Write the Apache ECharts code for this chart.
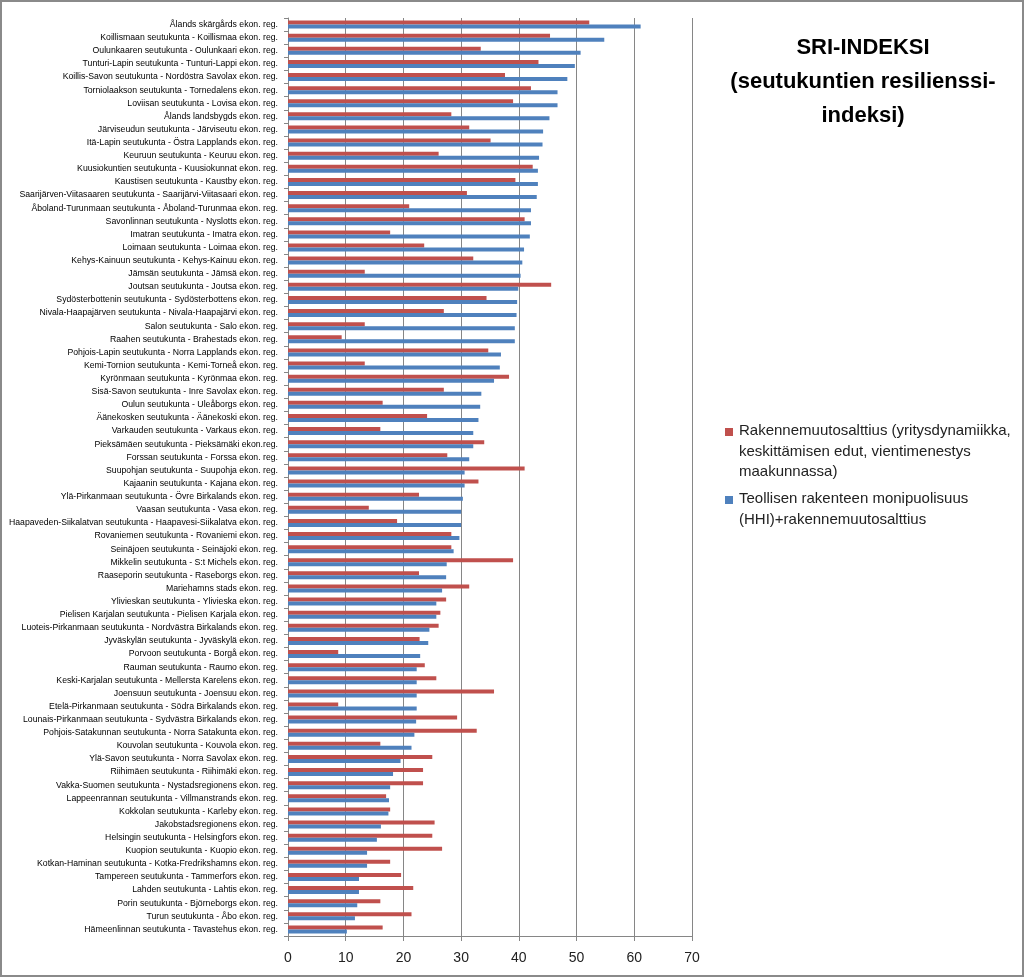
<!DOCTYPE html>
<html>
<head>
<meta charset="utf-8">
<script src="https://cdn.jsdelivr.net/npm/echarts@6/dist/echarts.min.js"></script>
<style>
html,body{margin:0;padding:0;background:#fff;}
#wrap{width:1024px;height:977px;box-sizing:border-box;border:2px solid #8a8a8a;position:relative;}
#chart{position:absolute;left:-2px;top:-2px;width:1024px;height:977px;}
</style>
</head>
<body>
<div id="wrap"><div id="chart"></div></div>
<script>
const categories = [
"Ålands skärgårds ekon. reg.",
"Koillismaan seutukunta - Koillismaa ekon. reg.",
"Oulunkaaren seutukunta - Oulunkaari ekon. reg.",
"Tunturi-Lapin seutukunta - Tunturi-Lappi ekon. reg.",
"Koillis-Savon seutukunta - Nordöstra Savolax ekon. reg.",
"Torniolaakson seutukunta - Tornedalens ekon. reg.",
"Loviisan seutukunta - Lovisa ekon. reg.",
"Ålands landsbygds ekon. reg.",
"Järviseudun seutukunta - Järviseutu ekon. reg.",
"Itä-Lapin seutukunta - Östra Lapplands ekon. reg.",
"Keuruun seutukunta - Keuruu ekon. reg.",
"Kuusiokuntien seutukunta - Kuusiokunnat ekon. reg.",
"Kaustisen seutukunta - Kaustby ekon. reg.",
"Saarijärven-Viitasaaren seutukunta - Saarijärvi-Viitasaari ekon. reg.",
"Åboland-Turunmaan seutukunta - Åboland-Turunmaa ekon. reg.",
"Savonlinnan seutukunta - Nyslotts ekon. reg.",
"Imatran seutukunta - Imatra ekon. reg.",
"Loimaan seutukunta - Loimaa ekon. reg.",
"Kehys-Kainuun seutukunta - Kehys-Kainuu ekon. reg.",
"Jämsän seutukunta - Jämsä ekon. reg.",
"Joutsan seutukunta - Joutsa ekon. reg.",
"Sydösterbottenin seutukunta - Sydösterbottens ekon. reg.",
"Nivala-Haapajärven seutukunta - Nivala-Haapajärvi ekon. reg.",
"Salon seutukunta - Salo ekon. reg.",
"Raahen seutukunta - Brahestads ekon. reg.",
"Pohjois-Lapin seutukunta - Norra Lapplands ekon. reg.",
"Kemi-Tornion seutukunta - Kemi-Torneå ekon. reg.",
"Kyrönmaan seutukunta - Kyrönmaa ekon. reg.",
"Sisä-Savon seutukunta - Inre Savolax ekon. reg.",
"Oulun seutukunta - Uleåborgs ekon. reg.",
"Äänekosken seutukunta - Äänekoski ekon. reg.",
"Varkauden seutukunta - Varkaus ekon. reg.",
"Pieksämäen seutukunta - Pieksämäki ekon.reg.",
"Forssan seutukunta - Forssa ekon. reg.",
"Suupohjan seutukunta - Suupohja ekon. reg.",
"Kajaanin seutukunta - Kajana ekon. reg.",
"Ylä-Pirkanmaan seutukunta - Övre Birkalands ekon. reg.",
"Vaasan seutukunta - Vasa ekon. reg.",
"Haapaveden-Siikalatvan seutukunta - Haapavesi-Siikalatva ekon. reg.",
"Rovaniemen seutukunta - Rovaniemi ekon. reg.",
"Seinäjoen seutukunta - Seinäjoki ekon. reg.",
"Mikkelin seutukunta - S:t Michels ekon. reg.",
"Raaseporin seutukunta - Raseborgs ekon. reg.",
"Mariehamns stads ekon. reg.",
"Ylivieskan seutukunta - Ylivieska ekon. reg.",
"Pielisen Karjalan seutukunta - Pielisen Karjala ekon. reg.",
"Luoteis-Pirkanmaan seutukunta - Nordvästra Birkalands ekon. reg.",
"Jyväskylän seutukunta - Jyväskylä ekon. reg.",
"Porvoon seutukunta - Borgå ekon. reg.",
"Rauman seutukunta - Raumo ekon. reg.",
"Keski-Karjalan seutukunta - Mellersta Karelens ekon. reg.",
"Joensuun seutukunta - Joensuu ekon. reg.",
"Etelä-Pirkanmaan seutukunta - Södra Birkalands ekon. reg.",
"Lounais-Pirkanmaan seutukunta - Sydvästra Birkalands ekon. reg.",
"Pohjois-Satakunnan seutukunta - Norra Satakunta ekon. reg.",
"Kouvolan seutukunta - Kouvola ekon. reg.",
"Ylä-Savon seutukunta - Norra Savolax ekon. reg.",
"Riihimäen seutukunta - Riihimäki ekon. reg.",
"Vakka-Suomen seutukunta - Nystadsregionens ekon. reg.",
"Lappeenrannan seutukunta - Villmanstrands ekon. reg.",
"Kokkolan seutukunta - Karleby ekon. reg.",
"Jakobstadsregionens ekon. reg.",
"Helsingin seutukunta - Helsingfors ekon. reg.",
"Kuopion seutukunta - Kuopio ekon. reg.",
"Kotkan-Haminan seutukunta - Kotka-Fredrikshamns ekon. reg.",
"Tampereen seutukunta - Tammerfors ekon. reg.",
"Lahden seutukunta - Lahtis ekon. reg.",
"Porin seutukunta - Björneborgs ekon. reg.",
"Turun seutukunta - Åbo ekon. reg.",
"Hämeenlinnan seutukunta - Tavastehus ekon. reg."
];

const rakennemuutos = [
52.2, 45.4, 33.4, 43.4, 37.6, 42.1, 39.0, 28.3, 31.4, 35.1,
26.1, 42.4, 39.4, 31.0, 21.0, 41.0, 17.7, 23.6, 32.1, 13.3,
45.6, 34.4, 27.0, 13.3, 9.3, 34.7, 13.3, 38.3, 27.0, 16.4,
24.1, 16.0, 34.0, 27.6, 41.0, 33.0, 22.7, 14.0, 18.9, 28.3,
28.3, 39.0, 22.7, 31.4, 27.4, 26.4, 26.1, 22.8, 8.7, 23.7,
25.7, 35.7, 8.7, 29.3, 32.7, 16.0, 25.0, 23.4, 23.4, 17.0,
17.7, 25.4, 25.0, 26.7, 17.7, 19.6, 21.7, 16.0, 21.4, 16.4
];

const monipuolisuus = [
61.1, 54.8, 50.7, 49.7, 48.4, 46.7, 46.7, 45.3, 44.2, 44.1,
43.5, 43.3, 43.3, 43.1, 42.1, 42.1, 41.9, 40.9, 40.6, 40.3,
39.9, 39.7, 39.6, 39.3, 39.3, 36.9, 36.7, 35.7, 33.5, 33.3,
33.0, 32.1, 32.1, 31.4, 30.6, 30.6, 30.3, 30.0, 30.0, 29.7,
28.7, 27.5, 27.4, 26.7, 25.7, 25.7, 24.5, 24.3, 22.9, 22.3,
22.3, 22.3, 22.3, 22.2, 21.9, 21.4, 19.5, 18.2, 17.7, 17.5,
17.4, 16.1, 15.4, 13.7, 13.7, 12.3, 12.3, 12.0, 11.6, 10.2
];

const xTicks = [0, 10, 20, 30, 40, 50, 60, 70];

const seriesNames = [
"Rakennemuutosalttius (yritysdynamiikka, keskittämisen edut, vientimenestys maakunnassa)",
"Teollisen rakenteen monipuolisuus (HHI)+rakennemuutosalttius"
];
const titleText = "SRI-INDEKSI\n(seutukuntien resilienssi-\nindeksi)";

const chart = echarts.init(document.getElementById('chart'), null, {renderer: 'canvas'});
const font = '"Liberation Sans Narrow", "Liberation Sans", Arial, sans-serif';
const font2 = '"Liberation Sans", Arial, sans-serif';
const grey = '#868686';

chart.setOption({
  animation: false,
  backgroundColor: 'transparent',
  title: {
    text: titleText,
    left: 858,
    top: 26,
    textAlign: 'center',
    textStyle: {fontFamily: font2, fontSize: 22, fontWeight: 'bold', color: '#000', lineHeight: 34}
  },
  legend: {show: false, data: seriesNames},
  grid: {left: 288, right: 332, top: 18, bottom: 41, containLabel: false, outerBoundsMode: 'none'},
  xAxis: {
    type: 'value',
    min: 0, max: 70, interval: 10,
    axisLine: {show: true, lineStyle: {color: grey, width: 1}},
    axisTick: {show: true, length: 5, lineStyle: {color: grey}},
    splitLine: {show: true, lineStyle: {color: grey, width: 1}},
    axisLabel: {
      margin: 15, fontSize: 14, color: '#222', fontFamily: font2,
      formatter: v => xTicks.includes(v) ? String(v) : ''
    }
  },
  yAxis: {
    type: 'category',
    inverse: true,
    data: categories,
    axisLine: {show: true, lineStyle: {color: grey, width: 1}},
    axisTick: {show: true, length: 4, inside: false, lineStyle: {color: grey}},
    axisLabel: {interval: 0, margin: 10, fontSize: 8.7, color: '#000', fontFamily: font},
    splitLine: {show: false}
  },
  series: [
    {
      name: seriesNames[0], type: 'bar', data: rakennemuutos,
      barWidth: 4, barGap: '0%',
      itemStyle: {color: '#C0504D'}
    },
    {
      name: seriesNames[1], type: 'bar', data: monipuolisuus,
      barWidth: 4, barGap: '0%',
      itemStyle: {color: '#4F81BD'}
    }
  ],
  graphic: [
    {type: 'rect', left: 725, top: 428, shape: {width: 8, height: 8}, style: {fill: '#C0504D'}},
    {type: 'text', left: 739, top: 421, style: {
      text: "Rakennemuutosalttius (yritysdynamiikka,\nkeskittämisen edut, vientimenestys\nmaakunnassa)",
      font: '15px ' + font2, fill: '#222', lineHeight: 20.5
    }},
    {type: 'rect', left: 725, top: 496, shape: {width: 8, height: 8}, style: {fill: '#4F81BD'}},
    {type: 'text', left: 739, top: 489, style: {
      text: "Teollisen rakenteen monipuolisuus\n(HHI)+rakennemuutosalttius",
      font: '15px ' + font2, fill: '#222', lineHeight: 20.5
    }}
  ]
});
</script>
</body>
</html>
